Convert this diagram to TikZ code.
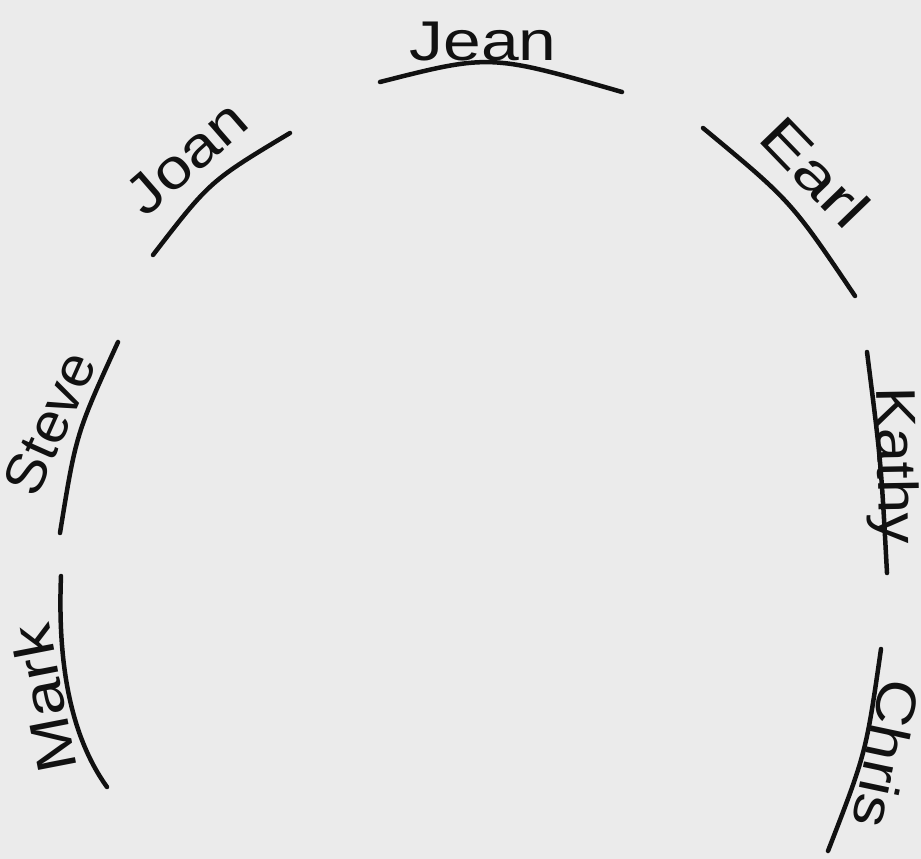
\documentclass[tikz,border=0pt]{standalone}
\usepackage{fontspec}
\setmainfont{Liberation Sans}
\definecolor{paper}{HTML}{EBEBEB}
\definecolor{ink}{HTML}{111111}
\begin{document}
\begin{tikzpicture}[x=1pt,y=-1pt,
  arcline/.style={draw=ink,line width=4.5pt,line cap=round},
  nametext/.style={anchor=base,inner sep=0pt,text=ink,font=\fontsize{56}{56}\selectfont}]
\fill[paper] (0,0) rectangle (921,859);
\useasboundingbox (0,0) rectangle (921,859);
% arc end points
\coordinate (jeanA) at (380,82);   \coordinate (jeanB) at (622,92);
\coordinate (joanA) at (153,255);  \coordinate (joanB) at (290,133);
\coordinate (earlA) at (703,128);  \coordinate (earlB) at (855,296);
\coordinate (steveA) at (60,533);  \coordinate (steveB) at (118,342);
\coordinate (kathyA) at (867,352); \coordinate (kathyB) at (887,573);
\coordinate (markA) at (61,576);   \coordinate (markB) at (107,787);
\coordinate (chrisA) at (881,649); \coordinate (chrisB) at (828,851);
% arcs
\draw[arcline] (jeanA) .. controls (490,54) .. (jeanB);
\draw[arcline] (joanA) .. controls (210,181) .. (joanB);
\draw[arcline] (earlA) .. controls (791,201) .. (earlB);
\draw[arcline] (steveA) .. controls (76,434) .. (steveB);
\draw[arcline] (kathyA) .. controls (881,462) .. (kathyB);
\draw[arcline] (markA) .. controls (58,650) and (66,730) .. (markB);
\draw[arcline] (chrisA) .. controls (866,753) .. (chrisB);
% names
\node[nametext] (jean) at (483,60) {\scalebox{1.21}[1]{Jean}};
\node[nametext,rotate=41] (joan) at (199,172) {\scalebox{1.16}[1]{Joan}};
\node[nametext,rotate=-46] (earl) at (801,186) {\scalebox{1.3}[1]{Earl}};
\node[nametext,rotate=66] (steve) at (67,431) {\scalebox{1.05}[1]{Steve}};
\node[nametext,rotate=-89] (kathy) at (878,466) {\scalebox{1.1}[1]{Kathy}};
\node[nametext,rotate=101] (mark) at (63,695) {\scalebox{1.2}[1]{Mark}};
\node[nametext,rotate=-102] (chris) at (867,750) {\scalebox{1.15}[1]{Chris}};
\end{tikzpicture}
\end{document}
